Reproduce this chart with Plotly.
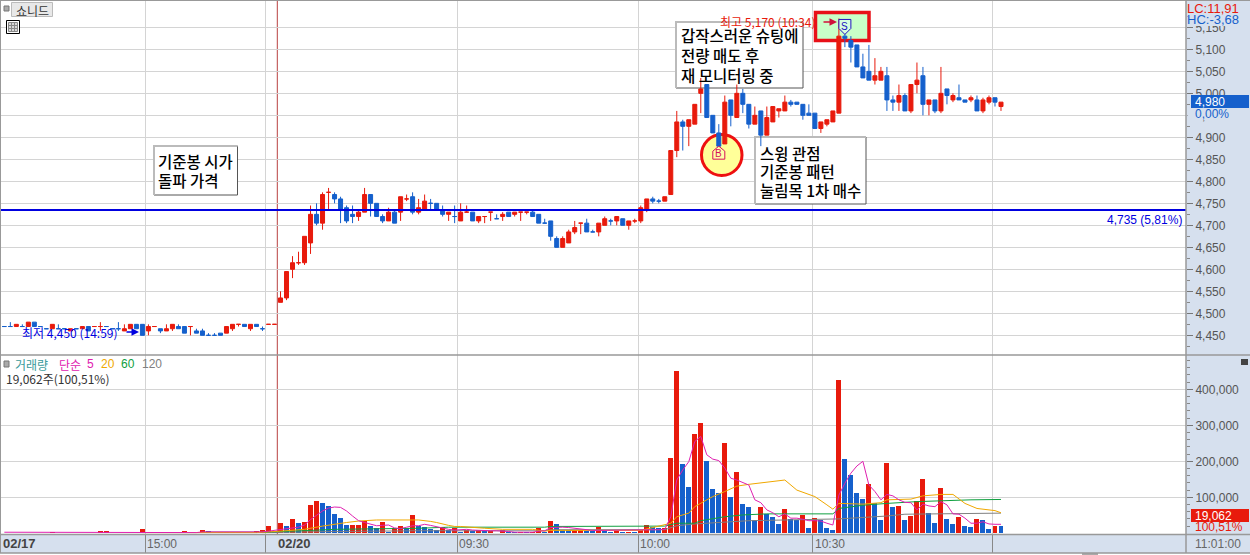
import plotly.graph_objects as go

# ---------- data ----------
opens = [4470,4470,4470,4470,4470,4480,4470,4465,4465,4465,4465,4460,4465,4465,4470,4470,4470,4470,4465,4465,4460,4465,4475,4475,4460,4470,4465,4460,4465,4470,4470,4470,4460,4460,4450,4450,4455,4455,4465,4475,4475,4465,4475,4465,4475,4475,
4525,4535,4600,4615,4615,4660,4725,4705,4775,4770,4760,4740,4725,4720,4730,4770,4750,4720,4710,4730,4730,4760,4765,4730,4735,4750,4750,4735,4725,4720,4710,4730,4730,4710,4720,4730,4715,4720,4730,4725,4730,4730,4730,4725,4705,
4710,4670,4650,4660,4685,4705,4705,4685,4685,4700,4710,4710,4715,4700,4710,4710,4735,4760,4755,4755,4770,4870,4935,4925,4930,5000,5020,4950,4910,4885,4985,4945,5000,4975,4930,4960,4905,4935,4960,4960,4980,4980,4975,4955,4955,4920,4930,4935,4955,
5130,5120,5110,5060,5050,5030,5030,5040,4985,4980,4995,4960,5020,5040,4975,4985,4960,5010,4985,4990,4985,4985,4985,4960,4980,4990,4970]
highs = [4470,4480,4475,4475,4480,4480,4470,4465,4475,4475,4465,4465,4465,4470,4470,4470,4480,4470,4465,4480,4475,4475,4475,4475,4475,4470,4465,4475,4475,4475,4470,4470,4465,4465,4455,4455,4455,4470,4475,4475,4475,4475,4475,4470,4475,4475,
4550,4595,4630,4640,4675,4745,4750,4775,4785,4775,4765,4745,4745,4735,4785,4770,4750,4725,4740,4735,4765,4770,4775,4760,4770,4760,4750,4745,4730,4745,4750,4745,4730,4720,4720,4730,4725,4730,4730,4730,4730,4730,4735,4725,4715,
4710,4675,4675,4690,4710,4705,4715,4690,4705,4720,4715,4720,4715,4710,4715,4745,4760,4765,4760,4765,4870,4960,4940,4940,4975,5035,5020,4950,4930,4995,4985,5020,5010,4975,4970,4960,4970,4970,4965,4995,4985,4980,4975,4975,4955,4935,4940,4960,5170,
5145,5130,5110,5090,5110,5080,5060,5060,4995,5020,5000,5020,5070,5060,4985,4985,5060,5010,5000,5020,4985,4995,4995,4990,4995,4990,4980]
lows = [4470,4470,4470,4470,4470,4470,4470,4465,4465,4465,4465,4460,4465,4465,4460,4470,4460,4470,4465,4460,4460,4465,4465,4450,4450,4470,4455,4460,4460,4465,4455,4450,4455,4450,4450,4450,4450,4455,4460,4470,4470,4460,4470,4460,4475,4475,
4525,4530,4580,4610,4610,4635,4700,4690,4735,4750,4705,4705,4705,4710,4730,4720,4720,4705,4710,4705,4710,4755,4725,4725,4735,4735,4735,4720,4710,4705,4710,4730,4710,4705,4705,4710,4715,4710,4720,4720,4710,4725,4720,4705,4705,
4665,4650,4650,4660,4680,4680,4685,4685,4675,4700,4700,4700,4700,4690,4705,4705,4730,4750,4750,4755,4770,4855,4870,4880,4930,4955,4945,4910,4880,4885,4925,4945,4955,4920,4930,4880,4905,4935,4945,4960,4970,4975,4940,4950,4920,4910,4925,4935,4955,
5105,5070,5060,5035,5030,5020,5030,4960,4960,4960,4960,4955,5000,4950,4950,4955,4955,4975,4980,4985,4980,4980,4960,4955,4975,4970,4960]
closes = [4470,4470,4475,4470,4480,4470,4470,4465,4475,4465,4465,4465,4465,4470,4460,4470,4470,4470,4465,4465,4465,4475,4465,4450,4470,4470,4460,4465,4475,4465,4455,4470,4455,4450,4450,4450,4450,4470,4475,4475,4470,4475,4470,4465,4475,4475,
4535,4595,4615,4615,4675,4725,4705,4770,4775,4760,4735,4710,4720,4730,4770,4750,4720,4710,4730,4705,4765,4760,4730,4740,4755,4750,4735,4725,4730,4720,4730,4730,4710,4720,4720,4730,4715,4725,4720,4730,4730,4730,4720,4705,4705,
4675,4650,4670,4685,4695,4705,4685,4685,4705,4715,4710,4720,4700,4710,4710,4740,4760,4755,4755,4765,4870,4935,4925,4940,4975,5010,4945,4910,4880,4980,4950,5000,4975,4930,4950,4905,4945,4970,4965,4980,4975,4975,4950,4950,4920,4935,4940,4960,5130,
5125,5105,5060,5035,5030,5040,5050,4985,4980,4995,4960,5020,5030,4975,4985,4960,5000,4995,4995,4985,4980,4990,4960,4985,4990,4980,4980]
doji_blue = [0,1,3,6,7,9,10,12,17,18,19,34,35,43,71,75,82,90,98,101,109]

volumes_k = [1.5,1.5,1.5,1,1,1,1,1,4,1,1,1,1,1,1,1,6.5,6.5,1.5,1.5,1.5,1.5,1.5,12,1.5,1.5,1.5,1.5,1.5,1.5,6,1.5,1.5,9,6,1.5,5,5,5,5,1.5,1.5,6,9,20,7,
29,20,40,29,31,79,90,84,76,54,43,23,23,23,34,20,15,31,5,15,20,15,51,20,17,12,8,18,8,16,5,8,7.5,8,6,6,2,8,4,3,3.5,3,4,16,5,
34,26,8,7.8,8,8,6,5.8,18,7,5,5.5,4.8,5,4,10,23,18.5,14,16,209,451,193,129,276,306,201,123,112,251,101,170,81,73,37,73,55,45,26,68,40,37,51,15,43,37,15,9,426,
206,162,112,95,137,84,37,195,73,76,37,48,90,151,56,29,126,40,26,45,20,18,40,37,12,20,19.062]

ma5_k = [3,3,3,1,1,1,1,1,1,1,1,1,1,1,1,1,3,3,3,3,3,3,3,2,2,2,2,2,2,2,2,2,2,4,4,4,4,4,4,4,2,2,2,4,6,8,
9,12,14,17,23,38,50,62,70,73,72,62,48,35,30,25,21,22,23,15,13,17,21,21,25,22,18,14,11,9,10,11,9,8,6,7,7,7,5,3,3,3,3,6,7,
16,17,17,16,14,12,8,8,8,8,8,8,8,8,8,9,9,10,10,11,46,148,176,199,255,269,218,206,202,181,153,148,141,134,93,85,65,57,46,54,42,42,39,35,35,34,28,23,106,
139,167,187,200,134,116,93,108,104,93,86,85,65,81,76,74,88,79,54,53,42,28,28,32,26,25,25]
ma20_bars = [23,42,46,50,53,55,57,59,62,69,70,71,72,73,74,75,76,80,83,88,90,91,106,111,112,114,115,117,118,120,122,124,127,130,132,135,137,138,139,143,146,147,151,153,156,158,160,162,165,166]
ma20_k = [2,2,6,11,20,26,30,34,37,37,36,33,30,25,22,19,19,14,11,11,6,8,8,28,46,56,74,93,102,116,131,136,143,148,120,102,79,67,83,81,85,93,95,104,108,108,83,69,63,57]
ma60_bars = [33,43,51,55,69,74,90,91,110,112,115,116,120,123,127,138,139,143,147,152,161,166]
ma60_k = [3,3,8,11,14,17,17,19,20,28,28,35,46,51,54,54,69,78,83,88,93,94]
ma120_bars = [43,46,55,69,90,91,110,112,115,124,132,139,147,150,166]
ma120_k = [2,3,5,7,7,10,10,21,26,35,37,40,48,53,56]

price_ticks = list(range(4450, 5151, 50))
volume_ticks = [100000, 200000, 300000, 400000]
time_grid = [23.5, 43.5, 75.5, 105.6, 134.6, 164.6]
time_labels = [("02/17", 3, True), ("15:00", 147, False), ("02/20", 278, True), ("09:30", 459, False),
               ("10:00", 640, False), ("10:30", 815, False), ("11:01:00", 1195, False)]
buy_bar, buy_price = 119, 4864
sell_bar, sell_price = 140, 5152
base_price = 4735

RED, BLUE = "#e81a0c", "#1560cc"
BAND = "#d6e0ee"
GRID = "#d4d4d4"
FRAME = "#999999"
LAT = "Liberation Sans, Noto Sans CJK KR"
KR = "Noto Sans CJK KR, Liberation Sans"

# pixel <-> axis helpers for the layout furniture
W, H = 1250, 555
PX0, PX1 = 1, 1186
def xd(px): return (px - 4.33) / 6.004
def yd(py): return 5100 - (py - 49.33) / 0.44
def vd(py): return (533.3 - py) / 36 * 100000

n = len(closes)
is_blue = [closes[i] < opens[i] or i in doji_blue for i in range(n)]

fig = go.Figure()

def candle(mask, color):
    idx = [i for i in range(n) if mask(i)]
    fig.add_trace(go.Candlestick(
        x=idx, open=[opens[i] for i in idx], high=[highs[i] for i in idx],
        low=[lows[i] for i in idx], close=[closes[i] for i in idx],
        increasing=dict(line=dict(color=color, width=1), fillcolor=color),
        decreasing=dict(line=dict(color=color, width=1), fillcolor=color),
        whiskerwidth=0, xaxis="x", yaxis="y", hoverinfo="skip", showlegend=False))

candle(lambda i: not is_blue[i], RED)
candle(lambda i: is_blue[i], BLUE)

# volume
volumes = [v * 1000 for v in volumes_k]
vol_colors = [RED if i == 0 or volumes[i] >= volumes[i - 1] else BLUE for i in range(n)]
fig.add_trace(go.Bar(x=list(range(n)), y=volumes, marker=dict(color=vol_colors, line=dict(width=0)),
    width=0.83, xaxis="x2", yaxis="y2", hoverinfo="skip", showlegend=False))
for xs, ys, col in [(ma120_bars, ma120_k, "#808080"), (ma60_bars, ma60_k, "#10a040"),
                    (ma20_bars, ma20_k, "#f0a800"), (list(range(n)), ma5_k, "#e020b0")]:
    fig.add_trace(go.Scatter(x=xs, y=[v * 1000 for v in ys], mode="lines",
        line=dict(color=col, width=1), xaxis="x2", yaxis="y2", hoverinfo="skip", showlegend=False))

shapes = []
ann = []

def paper_rect(x0, y0, x1, y1, fill=None, line=None, lw=1, layer="above"):
    shapes.append(dict(type="rect", xref="paper", yref="paper", x0=x0/W, x1=x1/W, y0=1-y0/H, y1=1-y1/H,
                       fillcolor=fill or "rgba(0,0,0,0)", line=dict(color=line or "rgba(0,0,0,0)", width=lw if line else 0), layer=layer))

def paper_line(x0, y0, x1, y1, color=FRAME, lw=1, layer="above"):
    shapes.append(dict(type="line", xref="paper", yref="paper", x0=x0/W, x1=x1/W, y0=1-y0/H, y1=1-y1/H,
                       line=dict(color=color, width=lw), layer=layer))

def label(px, py, text, color="#333333", size=12, anchor="left", family=LAT, weight=None, **kw):
    font = dict(size=size, color=color, family=family)
    if weight:
        font["weight"] = weight
    d = dict(xref="paper", yref="paper", x=px/W, y=1-py/H, text=text, showarrow=False, xanchor=anchor,
             yanchor="middle", font=font, borderpad=0, borderwidth=0)
    d.update(kw)
    ann.append(d)

def between_rect(x0, y0, x1, y1, fill, line, lw):
    shapes.append(dict(type="rect", xref="x", yref="y", x0=xd(x0), x1=xd(x1), y0=yd(y0), y1=yd(y1),
                       fillcolor=fill, line=dict(color=line, width=lw), layer="between"))

def text_box(x0, y0, x1, y1, text_x, rows):
    between_rect(x0, y0, x1, y1, "white", "#555555", 1)
    shapes.append(dict(type="path", xref="x", yref="y", layer="between",
        path=f"M {xd(x0)} {yd(y1)} L {xd(x0)} {yd(y0)} L {xd(x1)} {yd(y0)}",
        line=dict(color="#bbbbbb", width=2)))
    for py, t in rows:
        label(text_x, py, t, "#000000", 15.5, family=KR, weight=500)

# annotated boxes, green box, yellow circle
text_box(154, 146, 237.5, 195, 158, [(161, "기준봉 시가"), (180, "돌파 가격")])
text_box(676, 22, 803, 88, 681, [(35, "갑작스러운 슈팅에"), (55, "전량 매도 후"), (75, "재 모니터링 중")])
text_box(755, 137, 866, 204, 760, [(153, "스윙 관점"), (171, "기준봉 패턴"), (190, "눌림목 1차 매수")])
between_rect(815.5, 12.5, 869, 40.5, "#c8ffc8", "#e81018", 3.5)
shapes.append(dict(type="circle", xref="x", yref="y", layer="between",
    x0=xd(701.5), x1=xd(742), y0=yd(134.5), y1=yd(175.5), fillcolor="#ffff99", line=dict(color="#ee1010", width=3)))

# buy / sell house-shaped markers anchored at their bar and price
def signal(bar, price, text, path, fill, color):
    shapes.append(dict(type="path", xref="x", yref="y", xsizemode="pixel", ysizemode="pixel",
                       xanchor=bar, yanchor=price, path=path, fillcolor=fill,
                       line=dict(color=color, width=1), layer="above"))
    ann.append(dict(xref="x", yref="y", x=bar, y=price, text=text, showarrow=False,
                    font=dict(size=10, color=color, family=LAT), xanchor="center", yanchor="middle"))

signal(buy_bar, buy_price, "B", "M -6 -6 L 6 -6 L 6 2 L 0 7 L -6 2 Z", "#ffffa8", "#d6105a")
signal(sell_bar, sell_price, "S", "M -6 7 L 6 7 L 6 -2 L 0 -8 L -6 -2 Z", "#d8ffe0", "#2010c0")

# day separator
shapes.append(dict(type="line", xref="x", yref="paper", layer="between", x0=xd(277.3), x1=xd(277.3),
                   y0=1-355/H, y1=1-1/H, line=dict(color="#b84040", width=1)))
shapes.append(dict(type="line", xref="x2", yref="paper", layer="between", x0=xd(277.3), x1=xd(277.3),
                   y0=1-534/H, y1=1-355/H, line=dict(color="#b84040", width=1)))

# base price line
shapes.append(dict(type="line", xref="paper", yref="y", x0=PX0/W, x1=PX1/W, y0=base_price, y1=base_price,
                   line=dict(color="#0000e0", width=2), layer="above"))
label(1182, 220, f"{base_price:,} (5,81%)", "#0000e0", 12, anchor="right")

# frame
paper_rect(0, 553, W, H, fill="#ffffff")
paper_rect(1082, 553, 1098, 555, fill="#aaaaaa")
paper_line(0, 0.5, W, 0.5)
paper_line(0.5, 0, 0.5, 553)
paper_line(1186, 0, 1186, 553, lw=1.5)
paper_line(0, 355, W, 355, lw=1.5)
paper_line(0, 534.5, W, 534.5, lw=1.5)
paper_line(0, 553, W, 553, lw=1.5)

# panel texts
paper_rect(4, 6, 9, 11, fill="#aaaaaa", line="#777777")
paper_rect(11.5, 2.5, 52.5, 16.5, fill="#e8e8e8", line="#bbbbbb")
label(32, 10, "쇼니드", "#333333", 12, anchor="center", family=KR)
paper_rect(6.5, 20.5, 19.5, 33.5, fill="#ffffff", line="#000000")
paper_rect(8.5, 22.5, 17.5, 31.5, fill="#d8d8d8", line="#888888")
for gx in (11.5, 14.5):
    paper_line(gx, 22.5, gx, 31.5, "#888888")
paper_line(8.5, 25.5, 17.5, 25.5, "#888888")
paper_line(8.5, 28.5, 17.5, 28.5, "#888888")

label(22, 332, "최저 4,450 (14:59)", "#0000e0", 12, family=KR)
label(816, 21, "최고 5,170 (10:34)", "#e81a0c", 12, anchor="right", family=KR)
ann.append(dict(xref="paper", yref="paper", x=139/W, y=1-332/H, ax=-14, ay=0, text="", showarrow=True,
                arrowhead=2, arrowsize=1, arrowwidth=1.5, arrowcolor="#0000e0"))
ann.append(dict(xref="paper", yref="paper", x=837/W, y=1-22/H, ax=-15, ay=0, text="", showarrow=True,
                arrowhead=2, arrowsize=1, arrowwidth=1.5, arrowcolor="#d0103a"))

# volume legend
paper_rect(4, 361, 9, 367, fill="#aaaaaa", line="#777777")
label(15, 364, "거래량", "#3a9a9a", 12, family=KR)
label(59, 364, "단순", "#e020b0", 12, family=KR)
label(87, 364, "5", "#e020b0", 12)
label(101, 364, "20", "#f0a800", 12)
label(121, 364, "60", "#10a040", 12)
label(142, 364, "120", "#808080", 12)
label(6, 378, "19,062주(100,51%)", "#333333", 12, family=KR)
paper_rect(1241, 359, 1248, 365, fill="#444444")

# right-hand axis overlays: band-coloured patches hide the tick labels they sit on
paper_rect(1187.5, 2, W, 26, fill=BAND)
label(1187, 8.5, "LC:11,91", "#e81a0c", 13)
label(1187, 20, "HC:-3,68", "#1560cc", 13)
paper_rect(1191, 95, 1249, 108, fill=BLUE)
label(1195, 101.5, "4,980", "#ffffff", 12)
paper_rect(1187.5, 108, W, 120, fill=BAND)
label(1195, 114, "0,00%", "#1560cc", 12)
paper_rect(1191, 509, 1249, 522, fill=RED)
label(1195, 515.5, "19,062", "#ffffff", 12)
label(1195, 527, "100,51%", RED, 12)

# time labels
for text, px, bold in time_labels:
    label(px, 543.5, f"<b>{text}</b>" if bold else text, "#444444" if bold else "#666666", 13 if bold else 12)

fr = [xd(PX0), xd(PX1)]
axis_common = dict(range=fr, tickmode="array", tickvals=time_grid, showgrid=True, gridcolor=GRID, gridwidth=1,
                   zeroline=False, showline=False)
fig.update_layout(
    width=W, height=H, autosize=False, margin=dict(l=0, r=0, t=0, b=0),
    paper_bgcolor=BAND, plot_bgcolor="#ffffff", bargap=0, boxgap=1/3, boxgroupgap=0, showlegend=False,
    xaxis=dict(domain=[PX0/W, PX1/W], anchor="y", showticklabels=False, ticks="", rangeslider=dict(visible=False), **axis_common),
    xaxis2=dict(domain=[PX0/W, PX1/W], anchor="y2", showticklabels=False, ticks="outside", ticklen=18, tickcolor="#888888", tickwidth=1, **axis_common),
    yaxis=dict(domain=[1-355/H, 1-1/H], range=[yd(355), yd(1)], side="right", anchor="x", tickmode="array",
               tickvals=price_ticks, ticktext=[f"{v:,}" for v in price_ticks], showgrid=True, gridcolor=GRID,
               zeroline=False, ticks="outside", ticklen=6, tickcolor="#777777",
               tickfont=dict(family=LAT, size=12, color="#555555"),
               minor=dict(tickmode="array", tickvals=[v + 25 for v in range(4400, 5200, 50)], ticks="outside", ticklen=3, tickcolor="#888888", showgrid=False)),
    yaxis2=dict(domain=[1-534/H, 1-355/H], range=[vd(534), vd(355)], side="right", anchor="x2", tickmode="array",
                tickvals=volume_ticks, ticktext=[f"{v:,}" for v in volume_ticks], showgrid=True, gridcolor=GRID,
                zeroline=False, ticks="outside", ticklen=6, tickcolor="#777777",
                tickfont=dict(family=LAT, size=12, color="#555555"),
                minor=dict(tickmode="array", tickvals=[v for v in range(0, 500000, 20000) if v % 100000], ticks="outside", ticklen=3, tickcolor="#888888", showgrid=False)),
    shapes=shapes, annotations=ann,
)

fig.write_html("out.html", config=dict(displayModeBar=False, staticPlot=True),
               post_script="document.body.style.margin='0';document.documentElement.style.overflow='hidden';")
